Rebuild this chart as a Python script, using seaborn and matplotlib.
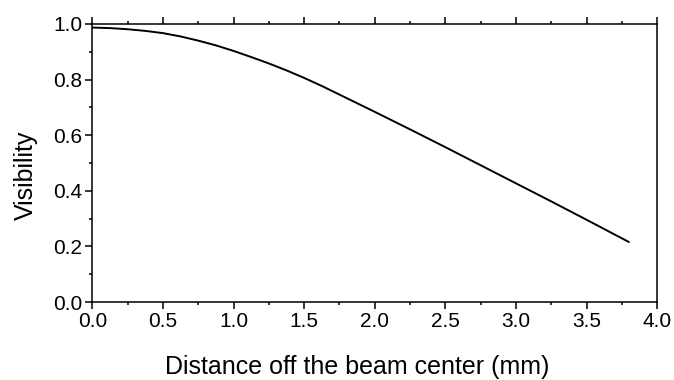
import numpy as np
import pandas as pd
import matplotlib
matplotlib.use("Agg")
import matplotlib.pyplot as plt
from matplotlib.ticker import MultipleLocator, FormatStrFormatter
import seaborn as sns

# values
distance_mm = [0.0, 0.125, 0.25, 0.375, 0.5, 0.625, 0.75, 0.875, 1.0, 1.125, 1.25, 1.375,
               1.5, 1.625, 1.75, 1.875, 2.0, 2.25, 2.5, 2.75, 3.0, 3.25, 3.5, 3.8]
visibility = [0.987, 0.985, 0.981, 0.975, 0.967, 0.955, 0.940, 0.923, 0.903, 0.881, 0.858, 0.833,
              0.806, 0.777, 0.746, 0.715, 0.684, 0.621, 0.557, 0.492, 0.427, 0.362, 0.296, 0.216]

sns.set_style("ticks")
plt.rcParams["font.family"] = ["Liberation Sans", "DejaVu Sans"]
plt.rcParams["text.color"] = "black"
plt.rcParams["axes.labelcolor"] = "black"
plt.rcParams["xtick.color"] = "black"
plt.rcParams["ytick.color"] = "black"

df = pd.DataFrame({"distance": distance_mm, "visibility": visibility})

fig = plt.figure(figsize=(6.74, 3.80), dpi=100)
ax = fig.add_axes([0.137, 0.205, 0.838, 0.732])
sns.lineplot(data=df, x="distance", y="visibility", color="black", linewidth=1.4, ax=ax)

ax.set_xlim(0, 4.0)
ax.set_ylim(0, 1.0)
ax.xaxis.set_major_locator(MultipleLocator(0.5))
ax.xaxis.set_minor_locator(MultipleLocator(0.25))
ax.yaxis.set_major_locator(MultipleLocator(0.2))
ax.yaxis.set_minor_locator(MultipleLocator(0.1))
ax.xaxis.set_major_formatter(FormatStrFormatter("%.1f"))
ax.yaxis.set_major_formatter(FormatStrFormatter("%.1f"))

for side in ["top", "right", "bottom", "left"]:
    ax.spines[side].set_visible(True)
    ax.spines[side].set_linewidth(1.1)
    ax.spines[side].set_color("black")

ax.tick_params(axis="x", which="both", direction="out", top=True, bottom=True, labeltop=False,
               width=1.1, color="black", labelcolor="black")
ax.tick_params(axis="y", which="both", direction="out", left=True, right=False, width=1.1,
               color="black", labelcolor="black")
ax.tick_params(which="major", length=4.8, labelsize=15, pad=2.5)
ax.tick_params(which="minor", length=2.4)

ax.set_xlabel("Distance off the beam center (mm)", fontsize=18, labelpad=17, color="black")
ax.set_ylabel("Visibility", fontsize=18, labelpad=11, color="black")
# labels sit a little off-centre in the reference
ax.xaxis.label.set_x(0.469)
ax.yaxis.label.set_y(0.457)

fig.savefig("out.png", dpi=100)
plt.close()
